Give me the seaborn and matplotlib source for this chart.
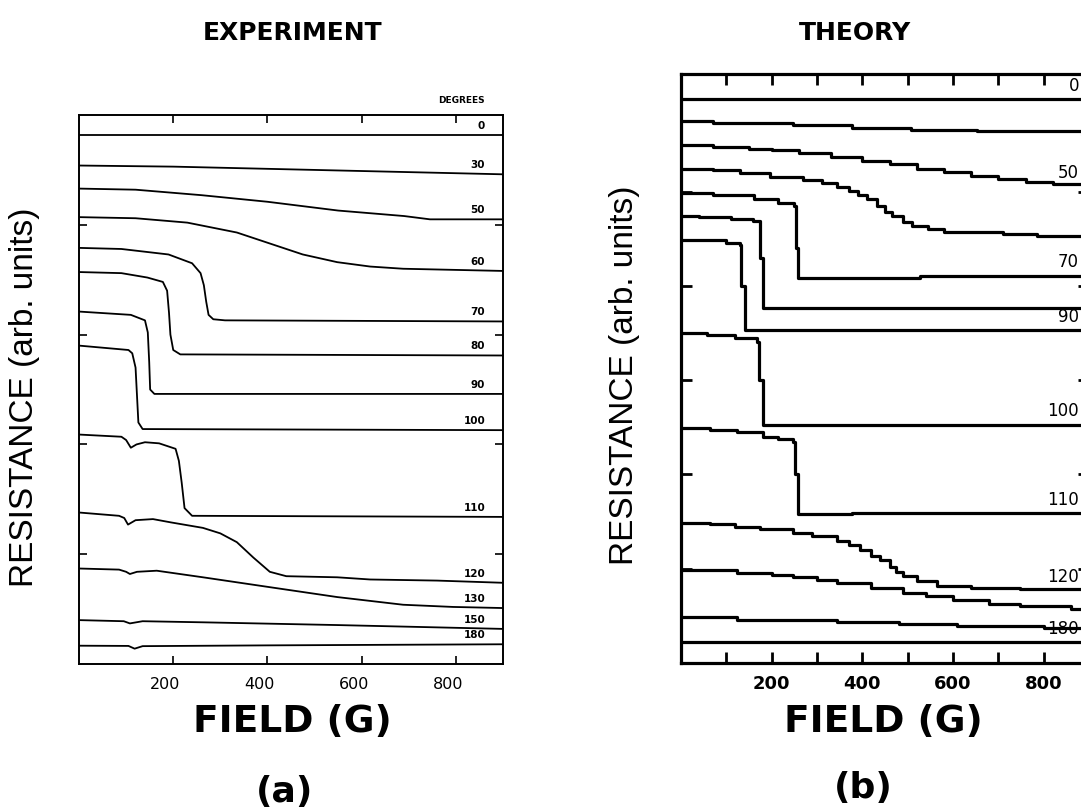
import numpy as np
import pandas as pd
import matplotlib
matplotlib.use("Agg")
import matplotlib.pyplot as plt
from matplotlib.transforms import ScaledTranslation
import seaborn as sns

# ---------------- data: (a) EXPERIMENT ----------------
A_angles = [0, 30, 50, 60, 70, 80, 90, 100, 110, 120, 130, 150, 180]
A0_x = [0, 900]
A0_y = [4.82, 4.82]
A30_x = [0, 200, 400, 600, 900]
A30_y = [4.54, 4.53, 4.51, 4.49, 4.46]
A50_x = [0, 120, 260, 400, 550, 690, 745, 900]
A50_y = [4.33, 4.32, 4.27, 4.21, 4.13, 4.08, 4.05, 4.05]
A60_x = [0, 120, 230, 335, 405, 475, 548, 618, 688, 900]
A60_y = [4.07, 4.06, 4.02, 3.93, 3.83, 3.73, 3.66, 3.62, 3.60, 3.58]
A70_x = [0, 90, 190, 240, 258, 265, 270, 275, 285, 310, 900]
A70_y = [3.79, 3.78, 3.73, 3.65, 3.56, 3.45, 3.30, 3.18, 3.14, 3.13, 3.12]
A80_x = [0, 90, 145, 178, 187, 191, 194, 200, 215, 900]
A80_y = [3.57, 3.56, 3.52, 3.48, 3.40, 3.20, 3.00, 2.86, 2.82, 2.81]
A90_x = [0, 110, 140, 146, 149, 151, 160, 900]
A90_y = [3.21, 3.18, 3.13, 3.02, 2.75, 2.50, 2.46, 2.46]
A100_x = [0, 105, 113, 120, 123, 126, 135, 900]
A100_y = [2.90, 2.86, 2.83, 2.70, 2.45, 2.20, 2.14, 2.13]
A110_x = [0, 90, 100, 110, 122, 140, 170, 205, 212, 218, 224, 240, 900]
A110_y = [2.09, 2.07, 2.04, 1.97, 2.00, 2.02, 2.01, 1.96, 1.85, 1.65, 1.42, 1.35, 1.34]
A120_x = [0, 85, 96, 104, 120, 157, 195, 263, 300, 335, 370, 405, 440, 548, 618, 760, 900]
A120_y = [1.38, 1.35, 1.33, 1.27, 1.31, 1.32, 1.29, 1.24, 1.19, 1.11, 0.97, 0.84, 0.80, 0.79, 0.77, 0.76, 0.74]
A130_x = [0, 85, 100, 108, 123, 165, 263, 405, 548, 688, 794, 900]
A130_y = [0.87, 0.86, 0.84, 0.82, 0.84, 0.85, 0.79, 0.70, 0.61, 0.54, 0.52, 0.51]
A150_x = [0, 95, 108, 135, 263, 548, 900]
A150_y = [0.40, 0.39, 0.37, 0.39, 0.38, 0.355, 0.32]
A180_x = [0, 105, 118, 135, 400, 900]
A180_y = [0.167, 0.165, 0.14, 0.163, 0.17, 0.18]

# ---------------- data: (b) THEORY ----------------
B_angles = [0, 30, 50, 60, 70, 80, 90, 100, 110, 120, 130, 150, 180]
B_labeled = [0, 50, 70, 90, 100, 110, 120, 180]
B0_x = [0, 900]
B0_y = [5.98, 5.98]
B30_x = [0, 70, 247, 377, 507, 653, 900]
B30_y = [5.75, 5.73, 5.71, 5.68, 5.66, 5.64, 5.64]
B50_x = [0, 70, 150, 200, 260, 330, 400, 460, 520, 580, 640, 700, 760, 820, 900]
B50_y = [5.50, 5.48, 5.45, 5.44, 5.41, 5.37, 5.33, 5.29, 5.24, 5.21, 5.17, 5.14, 5.10, 5.08, 5.06]
B60_x = [0, 70, 130, 196, 270, 310, 344, 370, 390, 410, 432, 450, 465, 490, 510, 545, 580, 710, 785, 900]
B60_y = [5.24, 5.23, 5.20, 5.16, 5.13, 5.09, 5.05, 5.01, 4.97, 4.92, 4.85, 4.79, 4.74, 4.68, 4.64, 4.60, 4.57, 4.55, 4.53, 4.53]
B70_x = [0, 70, 160, 215, 250, 254, 258, 290, 527, 900]
B70_y = [4.99, 4.97, 4.92, 4.88, 4.85, 4.40, 4.08, 4.09, 4.11, 4.12]
B80_x = [0, 40, 110, 159, 174, 180, 900]
B80_y = [4.74, 4.73, 4.71, 4.69, 4.30, 3.77, 3.77]
B90_x = [0, 100, 130, 133, 141, 900]
B90_y = [4.49, 4.46, 4.44, 4.00, 3.53, 3.53]
B100_x = [0, 57, 120, 168, 172, 180, 543, 900]
B100_y = [3.50, 3.48, 3.45, 3.41, 3.00, 2.52, 2.53, 2.53]
B110_x = [0, 64, 124, 181, 215, 247, 252, 258, 377, 900]
B110_y = [2.49, 2.47, 2.45, 2.40, 2.38, 2.35, 2.00, 1.58, 1.59, 1.59]
B120_x = [0, 64, 120, 174, 247, 290, 344, 370, 395, 420, 439, 460, 475, 490, 520, 565, 640, 748, 900]
B120_y = [1.49, 1.47, 1.44, 1.42, 1.38, 1.35, 1.29, 1.25, 1.20, 1.14, 1.09, 1.02, 0.97, 0.92, 0.87, 0.82, 0.80, 0.78, 0.775]
B130_x = [0, 124, 200, 247, 300, 344, 420, 490, 540, 600, 680, 748, 860, 900]
B130_y = [0.99, 0.95, 0.93, 0.91, 0.88, 0.85, 0.80, 0.74, 0.71, 0.67, 0.63, 0.60, 0.57, 0.56]
B150_x = [0, 124, 344, 480, 609, 800, 900]
B150_y = [0.49, 0.46, 0.43, 0.41, 0.39, 0.37, 0.37]
B180_x = [0, 900]
B180_y = [0.226, 0.226]

A_curves = [(A0_x, A0_y), (A30_x, A30_y), (A50_x, A50_y), (A60_x, A60_y), (A70_x, A70_y),
            (A80_x, A80_y), (A90_x, A90_y), (A100_x, A100_y), (A110_x, A110_y),
            (A120_x, A120_y), (A130_x, A130_y), (A150_x, A150_y), (A180_x, A180_y)]
B_curves = [(B0_x, B0_y), (B30_x, B30_y), (B50_x, B50_y), (B60_x, B60_y), (B70_x, B70_y),
            (B80_x, B80_y), (B90_x, B90_y), (B100_x, B100_y), (B110_x, B110_y),
            (B120_x, B120_y), (B130_x, B130_y), (B150_x, B150_y), (B180_x, B180_y)]

field_ticks_a = [200, 400, 600, 800]
field_ticks_b = [100, 200, 300, 400, 500, 600, 700, 800]
field_labels_b = ["", "200", "", "400", "", "600", "", "800"]

# ---------------- styling ----------------
sns.set_style("ticks")
plt.rcParams['font.family'] = ['DejaVu Sans']
for k in ("text.color", "axes.labelcolor", "xtick.color", "ytick.color", "axes.edgecolor"):
    plt.rcParams[k] = "black"

fig = plt.figure(figsize=(10.81, 8.10), dpi=100)
axA = fig.add_axes([0.0731, 0.1802, 0.3922, 0.6778])
axB = fig.add_axes([0.6300, 0.1815, 0.3774, 0.7272])

# ---- panel (a)
for ang, (xs, ys) in zip(A_angles, A_curves):
    df = pd.DataFrame({"field": xs, "res": ys})
    sns.lineplot(data=df, x="field", y="res", ax=axA, color="black", lw=1.3,
                 estimator=None, sort=False, legend=False)
    axA.annotate(str(ang), xy=(862, ys[-1]), xytext=(0, 3), textcoords="offset points",
                 ha="right", va="bottom", fontsize=7.5, fontweight="bold")
axA.text(862, 5.13, "DEGREES", ha="right", va="center", fontsize=6.5,
         fontweight="bold", clip_on=False)
axA.set_xlim(0, 900)
axA.set_ylim(0, 5)
axA.set_xticks(field_ticks_a)
axA.set_xticklabels([str(t) for t in field_ticks_a])
axA.set_yticks([1, 2, 3, 4])
axA.set_yticklabels([])
axA.tick_params(direction="in", length=6, width=1.2, top=True, right=True,
                labelsize=11.5, pad=9)
shift = ScaledTranslation(-8 / 100, 0, fig.dpi_scale_trans)
for lab in axA.get_xticklabels():
    lab.set_transform(lab.get_transform() + shift)
for s in axA.spines.values():
    s.set_linewidth(1.4)
    s.set_visible(True)
axA.set_xlabel("")
axA.set_ylabel("")

# ---- panel (b)
for ang, (xs, ys) in zip(B_angles, B_curves):
    df = pd.DataFrame({"field": xs, "res": ys})
    sns.lineplot(data=df, x="field", y="res", ax=axB, color="black", lw=2.3,
                 estimator=None, sort=False, legend=False, drawstyle="steps-post")
    if ang in B_labeled:
        axB.annotate(str(ang), xy=(878, ys[-1]), xytext=(0, 3), textcoords="offset points",
                     ha="right", va="bottom", fontsize=12)
axB.set_xlim(0, 900)
axB.set_ylim(0, 6.25)
axB.set_xticks(field_ticks_b)
axB.set_xticklabels(field_labels_b)
axB.set_yticks([1, 2, 3, 4, 5])
axB.set_yticklabels([])
axB.tick_params(direction="in", length=8, width=2, top=True, right=True,
                labelsize=13, pad=9)
for lab in axB.get_xticklabels():
    lab.set_fontweight("bold")
for s in axB.spines.values():
    s.set_linewidth(2.3)
    s.set_visible(True)
axB.set_xlabel("")
axB.set_ylabel("")

# ---- figure texts
fig.text(293 / 1081, 1 - 33 / 810, "EXPERIMENT", ha="center", va="center",
         fontsize=18, fontweight="bold", family=["Liberation Sans Narrow", "DejaVu Sans"])
fig.text(855 / 1081, 1 - 33 / 810, "THEORY", ha="center", va="center",
         fontsize=18, fontweight="bold", family=["Liberation Sans Narrow", "DejaVu Sans"])
for cx in (292, 883):
    fig.text(cx / 1081, 1 - 722 / 810, "FIELD (G)", ha="center", va="center",
             fontsize=27, fontweight="bold")
fig.text(285 / 1081, 1 - 792 / 810, "(a)", ha="center", va="center",
         fontsize=26, fontweight="bold")
fig.text(863 / 1081, 1 - 788 / 810, "(b)", ha="center", va="center",
         fontsize=26, fontweight="bold")
fig.text(25 / 1081, 1 - 397 / 810, "RESISTANCE (arb. units)", rotation=90,
         ha="center", va="center", fontsize=24, family=["Liberation Sans", "DejaVu Sans"])
fig.text(625 / 1081, 1 - 375 / 810, "RESISTANCE (arb. units)", rotation=90,
         ha="center", va="center", fontsize=24, family=["Liberation Sans", "DejaVu Sans"])

fig.savefig("out.png", dpi=100)
